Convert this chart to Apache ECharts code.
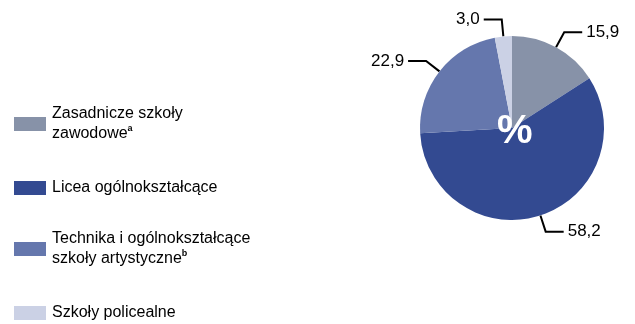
<!DOCTYPE html>
<html>
<head>
<meta charset="utf-8">
<script src="https://cdn.jsdelivr.net/npm/echarts@6/dist/echarts.min.js"></script>
<style>
  html, body { margin: 0; padding: 0; background: #fff; }
  #chart { width: 635px; height: 324px; }
</style>
</head>
<body>
<div id="chart"></div>
<script>
// School types (legend text, rich-text markup for the footnote marks)
const categories = [
  'Zasadnicze szkoły\nzawodowe{sup|a}',
  'Licea ogólnokształcące',
  'Technika i ogólnokształcące\nszkoły artystyczne{sup|b}',
  'Szkoły policealne'
];
// Share of each school type, %
const shares = [15.9, 58.2, 22.9, 3.0];
// Slice colours
const colors = ['#8792a8', '#334a91', '#6577ad', '#cbd1e5'];
// Vertical position of each legend entry
const legendTops = [104, 178, 229, 303];

const FONT = '"Liberation Sans", Arial, sans-serif';

const chart = echarts.init(document.getElementById('chart'), null, { renderer: 'canvas' });

const legends = categories.map((name, i) => ({
  data: [name],
  left: 14,
  top: legendTops[i],
  padding: 0,
  orient: 'vertical',
  itemWidth: 32,
  itemHeight: 14,
  icon: 'rect',
  selectedMode: false,
  textStyle: {
    fontFamily: FONT,
    fontSize: 16,
    color: '#000',
    lineHeight: 20,
    padding: [0, 0, 0, 1],
    rich: {
      sup: { fontFamily: FONT, fontSize: 9, fontWeight: 'bold', color: '#000', verticalAlign: 'top', lineHeight: 16 }
    }
  }
}));

chart.setOption({
  animation: false,
  color: colors,
  legend: legends,
  graphic: [{
    type: 'text',
    z: 100,
    left: 497,
    top: 112,
    style: { text: '%', fill: '#fff', font: 'bold 40px ' + FONT }
  }],
  series: [{
    type: 'pie',
    center: [512, 128],
    radius: [0, 92],
    startAngle: 90,
    clockwise: true,
    avoidLabelOverlap: false,
    data: categories.map((name, i) => ({ name, value: shares[i] })),
    label: {
      show: true,
      position: 'outside',
      fontFamily: FONT,
      fontSize: 17,
      color: '#000',
      distanceToLabelLine: 4,
      formatter: p => p.value.toFixed(1).replace('.', ',')
    },
    labelLine: {
      show: true,
      length: 17,
      length2: 18,
      lineStyle: { color: '#000', width: 2 }
    },
    emphasis: { disabled: true }
  }]
});
</script>
</body>
</html>
